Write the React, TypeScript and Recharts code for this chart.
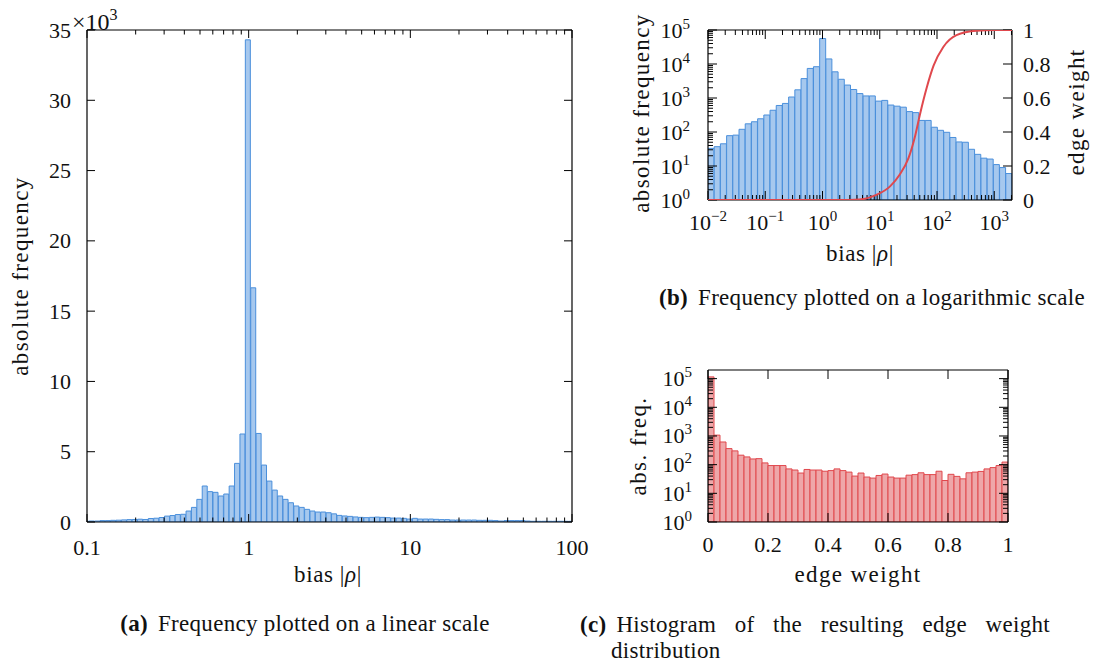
import React from 'react';
import { ComposedChart, Bar, Line, XAxis, YAxis } from 'recharts';

const FONT = '"Liberation Serif", "DejaVu Serif", serif';
const INK = '#111';

// (a) bias histogram, linear counts, bins of 1/30 decade in log10(bias)
const A_BIN_START = -1.0206;
const A_BIN_WIDTH = 1 / 30;
const A_COUNTS = [
  60, 70, 70, 100, 100, 120, 130, 150, 170, 180, 200, 180, 250, 270, 320, 420, 460, 530, 550, 780,
  1040, 1610, 2560, 2160, 2110, 1850, 1990, 2560, 4170, 6260, 34300, 16660, 6300, 4050, 2910, 2270,
  1850, 1610, 1370, 1140, 1040, 900, 780, 710, 710, 660,
  580, 470, 430, 400, 360, 330, 310, 330, 350, 330, 310, 280, 280, 260, 210, 260, 210, 210, 210, 190,
  170, 170, 140, 140, 140, 140, 140, 120, 120, 120, 100, 70, 100, 100, 100, 100, 70, 50, 50, 50,
  50, 50, 50, 50, 50,
];
const A_X_MAJOR = [0.1, 1, 10, 100];
const A_Y_TICKS = [0, 5000, 10000, 15000, 20000, 25000, 30000, 35000];

// (b) bias histogram, log counts, 49 bins over [1e-2, 10^3.31]
const B_LOG_MIN = -2;
const B_LOG_MAX = 3.31;
const B_COUNTS = [
  33, 37, 45, 78, 81, 120, 174, 200, 245, 316, 436, 603, 692, 1070, 1740, 3720, 7410, 8320, 56200,
  14100, 5890, 3550, 2400, 1780, 1350, 1150, 1150, 810, 850, 620, 575, 537, 398, 372, 219, 219, 138,
  112, 98, 69, 51, 50, 31, 22, 17, 16, 11, 9, 6,
];
const B_X_MAJOR = [0.01, 0.1, 1, 10, 100, 1000];
// edge weight curve (log10 bias, weight)
const W_LOG = [-2, 0.3, 0.65, 0.94, 1.18, 1.35, 1.5, 1.62, 1.7, 1.82, 1.94, 2.11, 2.34, 2.69, 3.0, 3.31];
const W_VAL = [0, 0, 0.003, 0.03, 0.08, 0.15, 0.245, 0.38, 0.5, 0.66, 0.79, 0.9, 0.97, 0.996, 1, 1];
const W_TICKS = [0, 0.2, 0.4, 0.6, 0.8, 1];

// (c) edge weight histogram, 50 bins on [0, 1]
const C_COUNTS = [
  115000, 1070, 617, 363, 302, 214, 186, 158, 162, 115, 93, 93, 93, 71, 65, 51, 68, 65, 65, 59,
  62, 71, 62, 55, 40, 51, 37, 34, 42, 47, 37, 34, 34, 43, 45, 52, 45, 45, 59, 28,
  46, 39, 32, 52, 55, 58, 71, 79, 93, 123,
];
const C_X_TICKS = [0, 0.2, 0.4, 0.6, 0.8, 1];
const LOG_Y_MAJOR = [1, 10, 100, 1000, 10000, 100000];

const BLUE_FILL = '#a6c8ee';
const BLUE_LINE = '#4a8fdb';
const RED_FILL = '#eea7a9';
const RED_LINE = '#e0484d';

const minorsOf = (majors: number[], max: number) => {
  const out: number[] = [];
  majors.forEach((m) => {
    for (let k = 2; k <= 9; k++) if (m * k <= max) out.push(m * k);
  });
  return out;
};

const isInt = (v: number) => Math.abs(v - Math.round(v)) < 1e-6;

const aRows = A_COUNTS.map((n, i) => ({ x: A_BIN_START + (i + 0.5) * A_BIN_WIDTH, n }));
const bBin = (B_LOG_MAX - B_LOG_MIN) / B_COUNTS.length;
const bRows = B_COUNTS.map((n, i) => ({ x: B_LOG_MIN + (i + 0.5) * bBin, n }));
const wRows = W_LOG.map((x, i) => ({ x, w: W_VAL[i] }));
const cRows = C_COUNTS.map((n, i) => ({ x: (i + 0.5) / C_COUNTS.length, n }));

const aXTicks = [...A_X_MAJOR, ...minorsOf(A_X_MAJOR.slice(0, 3), 100)].map(Math.log10);
const bXTicks = [...B_X_MAJOR, ...minorsOf(B_X_MAJOR, Math.pow(10, B_LOG_MAX))].map(Math.log10);
const bYTicks = [...LOG_Y_MAJOR, ...minorsOf(LOG_Y_MAJOR.slice(0, 5), 100000)];
const cYTicks = bYTicks;

const sup = (base: string, e: string) => (
  <>
    {base}
    <tspan dy={-9} fontSize={15}>
      {e}
    </tspan>
  </>
);
const pow10 = (e: number) => sup('10', e < 0 ? '\u2212' + Math.abs(e) : String(e));

type Side = 'bottom' | 'left' | 'right';
interface TickOpts {
  side: Side;
  isMajor: (v: number) => boolean;
  major: number;
  minor: number;
  label?: (v: number) => React.ReactNode;
  offset?: number;
  // distance to the opposite frame side, where the mirrored tick goes
  mirror?: number;
}

const makeTick = (o: TickOpts) => (p: any) => {
  const { x, y, payload } = p;
  const v = payload.value;
  const big = o.isMajor(v);
  const len = big ? o.major : o.minor;
  const dx = o.side === 'left' ? len : o.side === 'right' ? -len : 0;
  const dy = o.side === 'bottom' ? -len : 0;
  let text: React.ReactNode = null;
  if (big && o.label) {
    const c = o.label(v);
    const off = o.offset ?? 16;
    const common = { fontFamily: FONT, fontSize: 22, fill: INK };
    if (o.side === 'bottom')
      text = <text x={x} y={y + off} textAnchor="middle" {...common}>{c}</text>;
    else if (o.side === 'left')
      text = <text x={x - off} y={y + 7.5} textAnchor="end" {...common}>{c}</text>;
    else
      text = <text x={x + off} y={y + 7.5} textAnchor="start" {...common}>{c}</text>;
  }
  const m = o.mirror;
  return (
    <g>
      <line x1={x} y1={y} x2={x + dx} y2={y + dy} stroke="#000" strokeWidth={1} />
      {m ? <line x1={x} y1={y - m} x2={x} y2={y - m + len} stroke="#000" strokeWidth={1} /> : null}
      {text}
    </g>
  );
};

const AXIS = { stroke: '#000', strokeWidth: 1.2 };
const bare = { tickLine: false, tickSize: 0, tickMargin: 0, interval: 0 as const, axisLine: AXIS };

const logMajor = (v: number) => isInt(Math.log10(v));
const always = () => true;
const fmtDec = (v: number) => (isInt(v) ? String(Math.round(v)) : v.toFixed(1));

const ChartA = () => (
  <ComposedChart width={600} height={590} data={aRows} margin={{ top: 0, right: 0, bottom: 0, left: 0 }} barCategoryGap={0} barGap={0}>
    <XAxis xAxisId="b" dataKey="x" type="number" domain={[-1, 2]} allowDataOverflow ticks={aXTicks} height={68} {...bare}
      tick={makeTick({ side: 'bottom', isMajor: isInt, major: 8, minor: 4.5, offset: 33, mirror: 492, label: (v) => String(Math.round(Math.pow(10, v) * 10) / 10) })} />
    <XAxis xAxisId="t" orientation="top" type="number" domain={[-1, 2]} height={30} {...bare} tick={false} />
    <YAxis yAxisId="l" type="number" domain={[0, 35000]} allowDataOverflow ticks={A_Y_TICKS} width={87} {...bare}
      tick={makeTick({ side: 'left', isMajor: always, major: 8, minor: 4, offset: 16, label: (v) => String(v / 1000) })} />
    <YAxis yAxisId="r" orientation="right" type="number" domain={[0, 35000]} allowDataOverflow ticks={A_Y_TICKS} width={28} {...bare}
      tick={makeTick({ side: 'right', isMajor: always, major: 8, minor: 4 })} />
    <Bar xAxisId="b" yAxisId="l" dataKey="n" fill={BLUE_FILL} stroke={BLUE_LINE} strokeWidth={1} isAnimationActive={false} />
  </ComposedChart>
);

const ChartB = () => (
  <ComposedChart width={474} height={240} data={bRows} margin={{ top: 0, right: 0, bottom: 0, left: 0 }} barCategoryGap={0} barGap={0}>
    <XAxis xAxisId="b" dataKey="x" type="number" domain={[B_LOG_MIN, B_LOG_MAX]} allowDataOverflow ticks={bXTicks} height={40} {...bare}
      tick={makeTick({ side: 'bottom', isMajor: isInt, major: 9, minor: 5, offset: 30, mirror: 170, label: (v) => pow10(Math.round(v)) })} />
    <XAxis xAxisId="t" orientation="top" type="number" domain={[B_LOG_MIN, B_LOG_MAX]} height={30} {...bare} tick={false} />
    <XAxis xAxisId="c" dataKey="x" type="number" domain={[B_LOG_MIN, B_LOG_MAX]} allowDataOverflow hide />
    <YAxis yAxisId="l" type="number" scale="log" domain={[1, 100000]} allowDataOverflow ticks={bYTicks} width={88} {...bare}
      tick={makeTick({ side: 'left', isMajor: logMajor, major: 9, minor: 5, offset: 18, label: (v) => pow10(Math.round(Math.log10(v))) })} />
    <YAxis yAxisId="w" orientation="right" type="number" domain={[0, 1]} allowDataOverflow ticks={W_TICKS} width={82} {...bare}
      tick={makeTick({ side: 'right', isMajor: always, major: 9, minor: 5, offset: 11, label: fmtDec })} />
    <Bar xAxisId="b" yAxisId="l" dataKey="n" fill={BLUE_FILL} stroke={BLUE_LINE} strokeWidth={1} isAnimationActive={false} />
    <Line xAxisId="c" yAxisId="w" data={wRows} dataKey="w" type="monotone" stroke={RED_LINE} strokeWidth={2} dot={false} activeDot={false} isAnimationActive={false} zIndex={2000} />
  </ComposedChart>
);

const ChartC = () => (
  <ComposedChart width={420} height={220} data={cRows} margin={{ top: 0, right: 0, bottom: 0, left: 0 }} barCategoryGap={0} barGap={0}>
    <XAxis xAxisId="b" dataKey="x" type="number" domain={[0, 1]} allowDataOverflow ticks={C_X_TICKS} height={38} {...bare}
      tick={makeTick({ side: 'bottom', isMajor: always, major: 9, minor: 5, offset: 30, mirror: 152, label: fmtDec })} />
    <XAxis xAxisId="t" orientation="top" type="number" domain={[0, 1]} height={30} {...bare} tick={false} />
    <YAxis yAxisId="l" type="number" scale="log" domain={[1, 200000]} allowDataOverflow ticks={cYTicks} width={88} {...bare}
      tick={makeTick({ side: 'left', isMajor: logMajor, major: 9, minor: 5, offset: 16, label: (v) => pow10(Math.round(Math.log10(v))) })} />
    <YAxis yAxisId="r" orientation="right" type="number" scale="log" domain={[1, 200000]} allowDataOverflow ticks={cYTicks} width={32} {...bare}
      tick={makeTick({ side: 'right', isMajor: logMajor, major: 9, minor: 5 })} />
    <Bar xAxisId="b" yAxisId="l" dataKey="n" fill={RED_FILL} stroke={RED_LINE} strokeWidth={1} isAnimationActive={false} />
  </ComposedChart>
);

interface TxtProps {
  x: number;
  y: number;
  children: React.ReactNode;
  size?: number;
  rotate?: boolean;
  ls?: number;
  start?: boolean;
}
const Txt = ({ x, y, children, size = 23, rotate = false, ls = 0, start = false }: TxtProps) => (
  <div
    style={{
      position: 'absolute',
      left: x,
      top: y,
      transform: `translate(${start ? '0' : '-50%'}, -50%)${rotate ? ' rotate(-90deg)' : ''}`,
      fontSize: size,
      letterSpacing: ls,
      lineHeight: 1,
      whiteSpace: 'nowrap',
    }}
  >
    {children}
  </div>
);

const Bias = () => (
  <>
    bias |<i>ρ</i>|
  </>
);

export default function App() {
  return (
    <div style={{ position: 'absolute', left: 0, top: 0, width: 1094, height: 669, background: '#fff', fontFamily: FONT, color: INK, overflow: 'hidden' }}>
      <div style={{ position: 'absolute', left: 0, top: 0 }}>
        <ChartA />
      </div>
      <div style={{ position: 'absolute', left: 620, top: 0 }}>
        <ChartB />
      </div>
      <div style={{ position: 'absolute', left: 620, top: 340 }}>
        <ChartC />
      </div>

      {/* (a) */}
      <Txt x={20} y={276} rotate ls={1.4}>absolute frequency</Txt>
      <Txt x={72} y={22} size={24} start>
        <span>×10</span>
        <span style={{ fontSize: 16, position: 'relative', top: -10 }}>3</span>
      </Txt>
      <Txt x={328} y={574} ls={0.6}><Bias /></Txt>
      <Txt x={305} y={623} ls={0.3}>
        <b style={{ marginRight: 10 }}>(a)</b>Frequency plotted on a linear scale
      </Txt>

      {/* (b) */}
      <Txt x={641} y={113} rotate ls={1.4}>absolute frequency</Txt>
      <Txt x={1076} y={112} rotate ls={1.4}>edge weight</Txt>
      <Txt x={860} y={253} ls={0.6}><Bias /></Txt>
      <Txt x={872} y={297} ls={0.3}>
        <b style={{ marginRight: 10 }}>(b)</b>Frequency plotted on a logarithmic scale
      </Txt>

      {/* (c) */}
      <Txt x={638} y={446} rotate ls={1.4}>abs. freq.</Txt>
      <Txt x={858} y={574} ls={1.4}>edge weight</Txt>
      <div style={{ position: 'absolute', left: 580, top: 611, width: 470, fontSize: 23, lineHeight: '27px', textAlign: 'justify', textAlignLast: 'justify', letterSpacing: 0.3 }}>
        <b style={{ marginRight: 10 }}>(c)</b>Histogram of the resulting edge weight
      </div>
      <div style={{ position: 'absolute', left: 611, top: 637, fontSize: 23, lineHeight: '27px', letterSpacing: 0.3 }}>distribution</div>
    </div>
  );
}
